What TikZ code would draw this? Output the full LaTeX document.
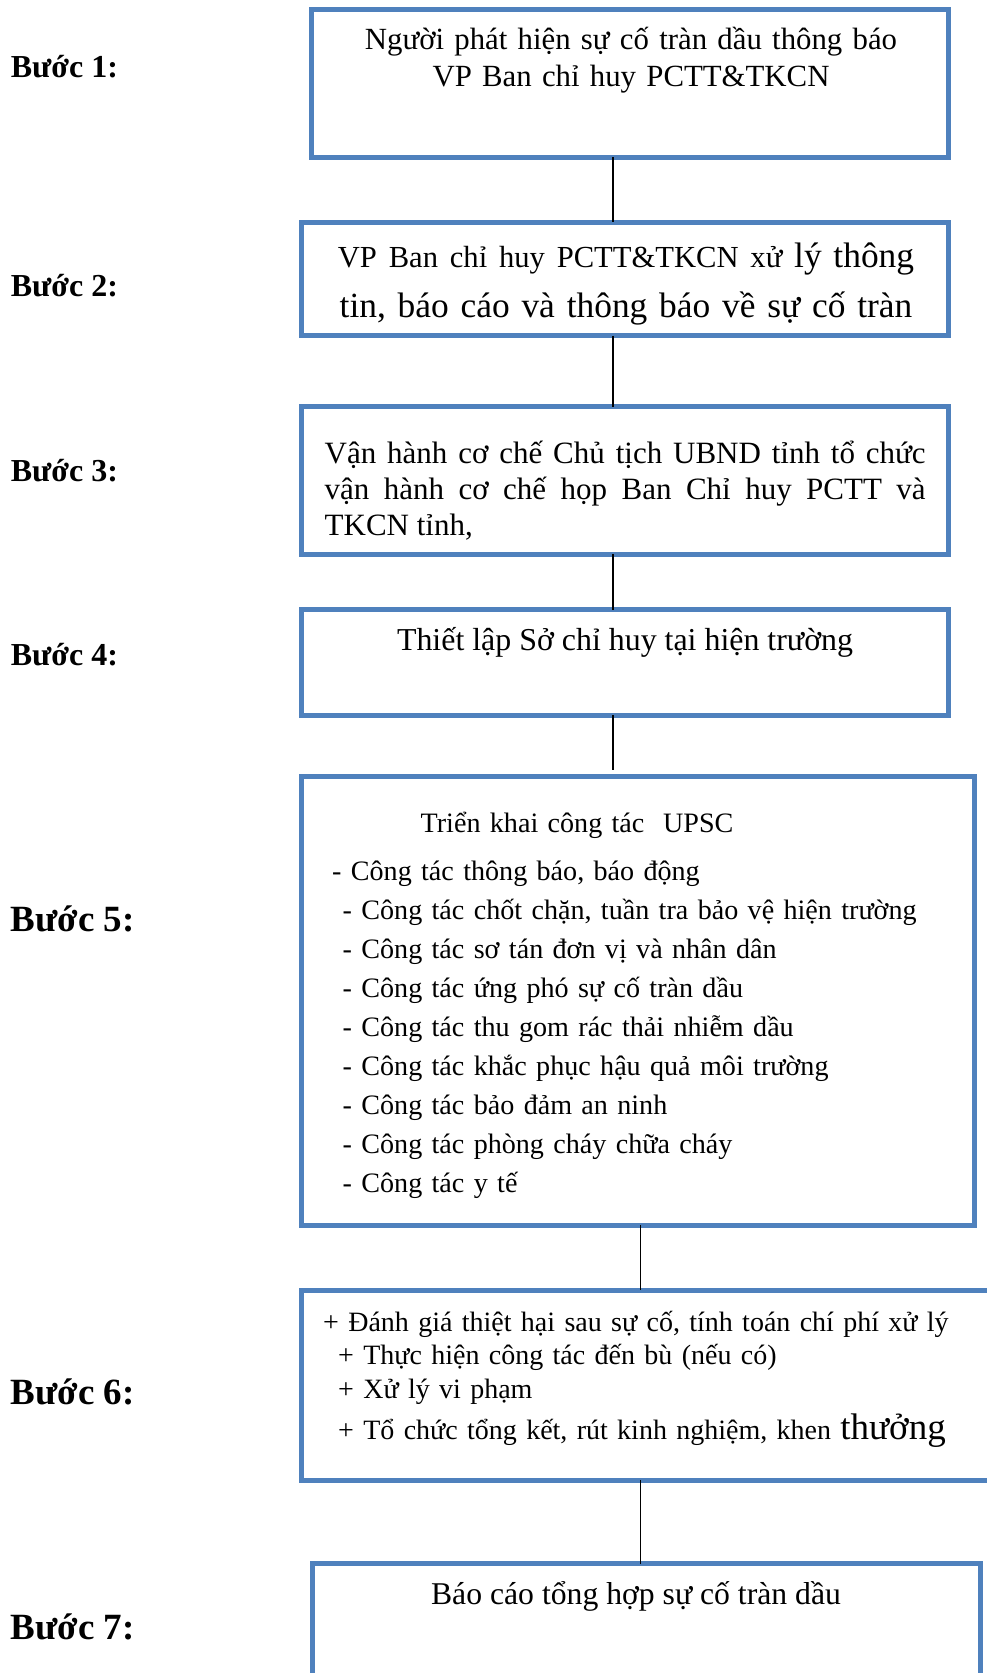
\documentclass[tikz,border=0pt]{standalone}
\usepackage{fontspec}
\setmainfont{Liberation Serif}
\usepackage{xcolor}
\usepackage{tikz}
\usetikzlibrary{arrows.meta,positioning}
\definecolor{boxblue}{HTML}{4F81BD}

\begin{document}
\begin{tikzpicture}[x=1pt,y=-1pt,
  stepbox/.style={draw=boxblue, line width=5pt, inner sep=0pt, outer sep=0pt, anchor=north west},
  boxtext/.style={anchor=base, inner sep=0pt, font=\fontsize{31.5}{37.5}\selectfont},
  steplabel/.style={anchor=base west, inner sep=0pt, font=\bfseries\fontsize{32}{38}\selectfont},
  biglabel/.style={steplabel, font=\bfseries\fontsize{37}{44}\selectfont},
  link/.style={line width=1.6pt}]
\useasboundingbox (0,0) rectangle (987,1673);

% Spines of the connectors
\coordinate (spineA) at (613,0);
\coordinate (spineB) at (640.5,0);

% Step 1
\node[stepbox, minimum width=637pt, minimum height=148pt] (box1) at (311.5,9) {};
\node[boxtext, text width=630pt, align=center, font=\fontsize{30.8}{37.5}\selectfont] (txt1) at (631,49)
  {Người phát hiện sự cố tràn dầu thông báo\\VP Ban chỉ huy PCTT\&TKCN};
\node[steplabel] (lab1) at (10.7,77) {Bước 1:};

% Step 2
\node[stepbox, minimum width=647.5pt, minimum height=113.5pt] (box2) at (301,222) {};
\node[boxtext, text width=630pt, align=center, font=\fontsize{35.4}{50}\selectfont] (txt2) at (626,267)
  {{\fontsize{30.6}{50}\selectfont VP Ban chỉ huy PCTT\&TKCN xử }lý thông\\tin, báo cáo và thông báo về sự cố tràn};
\node[steplabel] (lab2) at (10.7,296.7) {Bước 2:};

% Step 3
\node[stepbox, minimum width=647.5pt, minimum height=147.5pt] (box3) at (301,406.5) {};
\node[boxtext, anchor=base west, text width=601pt, align=justify, font=\fontsize{31}{36}\selectfont] (txt3) at (324.5,463)
  {Vận hành cơ chế Chủ tịch UBND tỉnh tổ chức\linebreak vận hành cơ chế họp Ban Chỉ huy PCTT và\linebreak TKCN tỉnh,};
\node[steplabel] (lab3) at (10.7,481.7) {Bước 3:};

% Step 4
\node[stepbox, minimum width=647.5pt, minimum height=105.5pt] (box4) at (301,609.5) {};
\node[boxtext, font=\fontsize{31.9}{37.5}\selectfont] (txt4) at (625,650) {Thiết lập Sở chỉ huy tại hiện trường};
\node[steplabel] (lab4) at (10.7,665.7) {Bước 4:};

% Step 5
\node[stepbox, minimum width=673pt, minimum height=448.5pt] (box5) at (301,776.5) {};
\node[boxtext, anchor=base west, text width=630pt, align=left, font=\fontsize{28.1}{39}\selectfont] (txt5) at (332,832)
  {\hspace*{88.5pt}Triển khai công tác~ UPSC\\[9.3pt]
   - Công tác thông báo, báo động\\
   \hspace*{10.5pt}- Công tác chốt chặn, tuần tra bảo vệ hiện trường\\
   \hspace*{10.5pt}- Công tác sơ tán đơn vị và nhân dân\\
   \hspace*{10.5pt}- Công tác ứng phó sự cố tràn dầu\\
   \hspace*{10.5pt}- Công tác thu gom rác thải nhiễm dầu\\
   \hspace*{10.5pt}- Công tác khắc phục hậu quả môi trường\\
   \hspace*{10.5pt}- Công tác bảo đảm an ninh\\
   \hspace*{10.5pt}- Công tác phòng cháy chữa cháy\\
   \hspace*{10.5pt}- Công tác y tế};
\node[biglabel] (lab5) at (10.7,931) {Bước 5:};

% Step 6
\node[stepbox, minimum width=720pt, minimum height=190pt] (box6) at (301,1290) {};
\node[boxtext, anchor=base west, text width=660pt, align=left, font=\fontsize{28}{33.5}\selectfont] (txt6) at (323,1331)
  {+ Đánh giá thiệt hại sau sự cố, tính toán chí phí xử lý\\
   \hspace*{15pt}+ Thực hiện công tác đến bù (nếu có)\\
   \hspace*{15pt}+ Xử lý vi phạm\\[8pt]
   \hspace*{15pt}+ Tổ chức tổng kết, rút kinh nghiệm, khen {\fontsize{37}{40}\selectfont thưởng}};
\node[biglabel] (lab6) at (10.7,1404) {Bước 6:};

% Step 7
\node[stepbox, minimum width=668pt, minimum height=150pt] (box7) at (312,1563.5) {};
\node[boxtext, font=\fontsize{31.7}{37.5}\selectfont] (txt7) at (636,1604) {Báo cáo tổng hợp sự cố tràn dầu};
\node[biglabel] (lab7) at (10.7,1639) {Bước 7:};

% Connectors
\draw[link] (box1.south -| spineA) -- (box2.north -| spineA);
\draw[link] (box2.south -| spineA) -- (box3.north -| spineA);
\draw[link] (box3.south -| spineA) -- (box4.north -| spineA);
\draw[link, shorten >=7pt] (box4.south -| spineA) -- (box5.north -| spineA);
\draw[link] (box5.south -| spineB) -- (box6.north -| spineB);
\draw[link] (box6.south -| spineB) -- (box7.north -| spineB);
\end{tikzpicture}
\end{document}
